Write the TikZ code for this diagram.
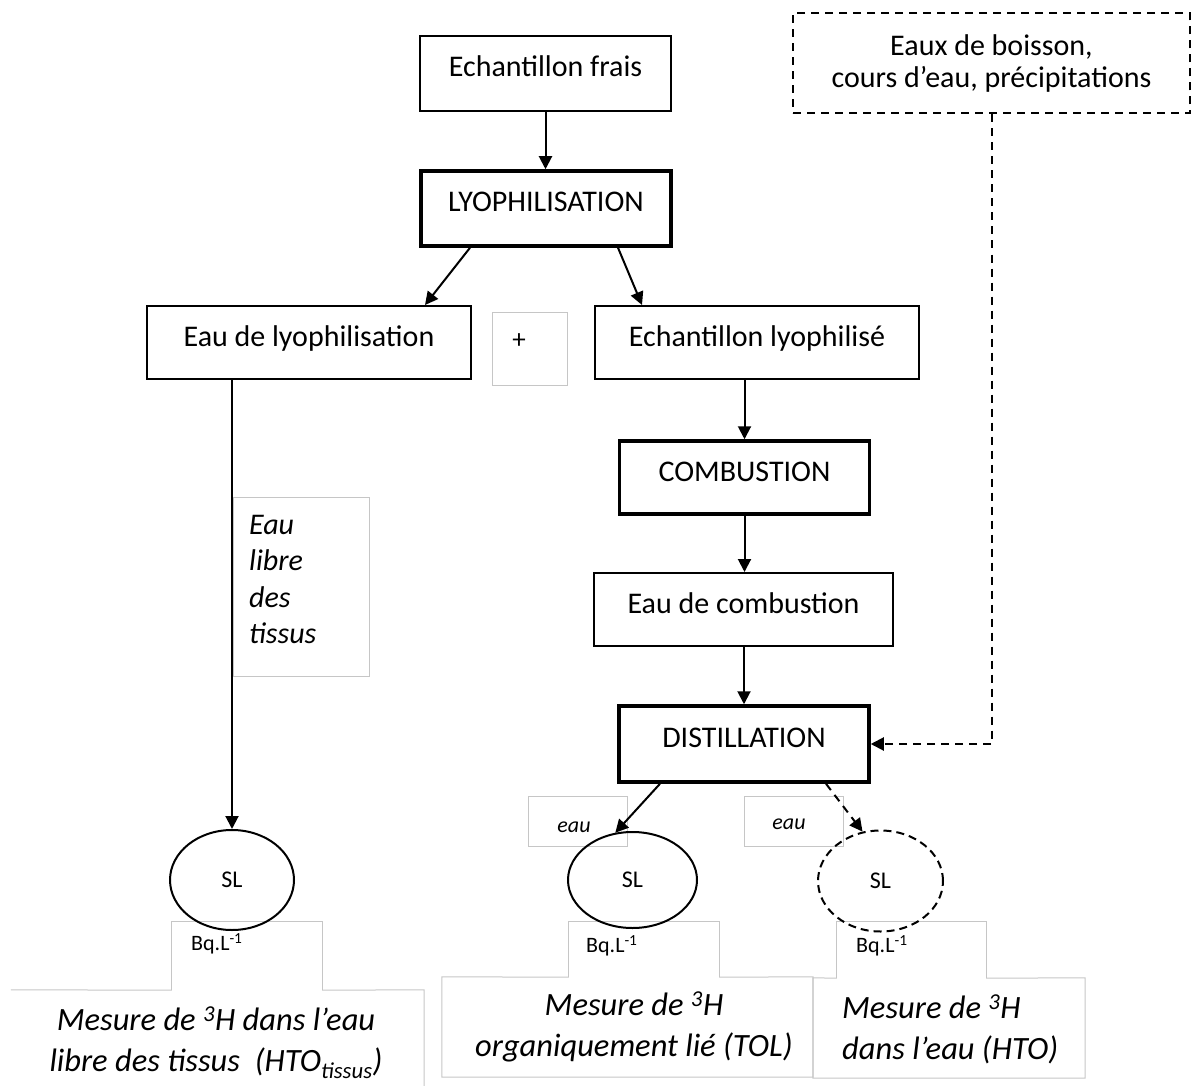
\documentclass[tikz,border=0pt]{standalone}
\usepackage{fontspec}
\setmainfont{Carlito}
\usetikzlibrary{arrows.meta,shapes.geometric,calc}
\begin{document}
\begin{tikzpicture}[x=1pt,y=-1pt,
  box/.style={draw, rectangle, line width=2pt, inner sep=0pt, font=\fontsize{30}{36}\selectfont, text height=22pt, text depth=15pt},
  thickbox/.style={box, line width=3.5pt},
  gbox/.style={draw=gray!45, rectangle, line width=1pt, inner sep=0pt},
  ghost/.style={rectangle, inner sep=0pt},
  gline/.style={draw=gray!45, line width=1pt},
  arr/.style={line width=2pt, -{Triangle[length=13pt,width=13pt]}},
  dasharr/.style={arr, dash pattern=on 8pt off 6pt},
  sl/.style={draw, ellipse, line width=2pt, inner sep=0pt, font=\fontsize{24}{28}\selectfont},
  small/.style={font=\fontsize{22}{26}\selectfont\itshape, inner sep=0pt},
  bqtext/.style={font=\fontsize{22}{26}\selectfont, inner sep=0pt, anchor=west},
  meas/.style={font=\fontsize{32.5}{41}\selectfont\itshape, inner sep=0pt},
]
\useasboundingbox (0,0) rectangle (1194,1086);

% gray helper boxes
\node[gbox, minimum width=75pt, minimum height=73pt] (plusbox) at (529.5,348.5) {};
\node[font=\fontsize{27}{30}\selectfont, inner sep=0pt] (plus) at (519,341) {+};

\node[gbox, minimum width=136pt, minimum height=179pt] (tissusbox) at (301,586.5) {};
\node[align=left, anchor=west, font=\fontsize{30}{36.5}\selectfont\itshape, inner sep=0pt] (tissus) at (249,579.5) {Eau\\libre\\des\\tissus};

\node[gbox, minimum width=99pt, minimum height=50pt] (eau1box) at (577.5,821) {};
\node[small] (eau1) at (574,827) {eau};
\node[gbox, minimum width=99pt, minimum height=50pt] (eau2box) at (793.5,821) {};
\node[small] (eau2) at (789,824) {eau};

\node[ghost, minimum width=150pt, minimum height=68pt] (bq1box) at (247,956) {};
\node[bqtext] (bq1) at (191,944) {Bq.L\textsuperscript{-1}};
\node[ghost, minimum width=150pt, minimum height=55pt] (bq2box) at (644,949.5) {};
\node[bqtext] (bq2) at (586,946) {Bq.L\textsuperscript{-1}};
\node[ghost, minimum width=149pt, minimum height=56pt] (bq3box) at (911.5,950) {};
\node[bqtext] (bq3) at (856,946) {Bq.L\textsuperscript{-1}};

\node[ghost, minimum width=413pt, minimum height=120pt] (m1box) at (217.5,1050) {};
\node[ghost, minimum width=371pt, minimum height=100pt] (m2box) at (627.5,1027) {};
\node[ghost, minimum width=272pt, minimum height=100pt] (m3box) at (949,1028) {};

\draw[gline] (bq1box.south west) |- (bq1box.north east) -- (bq1box.south east);
\draw[gline] (m1box.north west) -- (bq1box.south west);
\draw[gline] (bq1box.south east) -- (m1box.north east) -- (m1box.south east);

\draw[gline] (bq2box.south west) |- (bq2box.north east) -- (bq2box.south east);
\draw[gline] (bq2box.south west) -- (m2box.north west) -- (m2box.south west) -- (m2box.south east) -- (m2box.north east) -- (bq2box.south east);

\draw[gline] (bq3box.south west) |- (bq3box.north east) -- (bq3box.south east);
\draw[gline] (bq3box.south west) -- (m3box.north west) -- (m3box.south west) -- (m3box.south east) -- (m3box.north east) -- (bq3box.south east);

\node[meas, align=center] (m1) at (216,1043) {Mesure de \textsuperscript{3}H dans l’eau\\libre des tissus\ \ (HTO\textsubscript{tissus})};
\node[meas, align=center] (m2) at (634,1027) {Mesure de \textsuperscript{3}H\\organiquement lié (TOL)};
\node[meas, align=left, anchor=west] (m3) at (842,1029) {Mesure de \textsuperscript{3}H\\dans l’eau (HTO)};

% main boxes
\node[box, minimum width=251pt, minimum height=75pt] (frais) at (545.5,73.5) {Echantillon frais};
\node[thickbox, minimum width=250pt, minimum height=75pt] (lyo) at (546,208.5) {LYOPHILISATION};
\node[box, minimum width=324pt, minimum height=73pt] (eaulyo) at (309,342.5) {Eau de lyophilisation};
\node[box, minimum width=324pt, minimum height=73pt] (eclyo) at (757,342.5) {Echantillon lyophilisé};
\node[thickbox, minimum width=250pt, minimum height=73pt] (comb) at (744.5,477.5) {COMBUSTION};
\node[box, minimum width=299pt, minimum height=73pt] (eaucomb) at (743.5,609.5) {Eau de combustion};
\node[thickbox, minimum width=250pt, minimum height=76pt] (dist) at (744,744) {DISTILLATION};
\node[draw, dash pattern=on 8pt off 6pt, line width=2pt, minimum width=397pt, minimum height=100pt, align=center, inner sep=0pt, font=\fontsize{30}{32}\selectfont] (eaux) at (991.5,63.5) {Eaux de boisson,\\cours d’eau, précipitations};

% ellipses
\node[sl, minimum width=124pt, minimum height=100pt] (sl1) at (232,880) {SL};
\node[sl, minimum width=129pt, minimum height=96pt] (sl2) at (632.5,880) {SL};
\node[sl, dash pattern=on 8pt off 5pt, minimum width=125pt, minimum height=101pt] (sl3) at (880.5,881) {SL};

% connectors
\draw[arr] (frais.south) -- (frais.south |- lyo.north);
\draw[arr] ([xshift=-76pt]lyo.south) -- ([xshift=116pt]eaulyo.north);
\draw[arr] ([xshift=72pt]lyo.south) -- ([xshift=-115pt]eclyo.north);
\draw[arr] (eclyo.south -| comb.north) -- (comb.north);
\draw[arr] (comb.south) -- (comb.south |- eaucomb.north);
\draw[arr] (eaucomb.south -| dist.north) -- (dist.north);
\draw[arr] (eaulyo.south -| sl1.north) -- (sl1.north);
\draw[arr] ([xshift=-84pt]dist.south) -- (sl2.110);
\draw[dasharr] ([xshift=82pt]dist.south) -- (sl3.110);
\draw[dasharr] (eaux.south) |- (dist.east);
\end{tikzpicture}
\end{document}
